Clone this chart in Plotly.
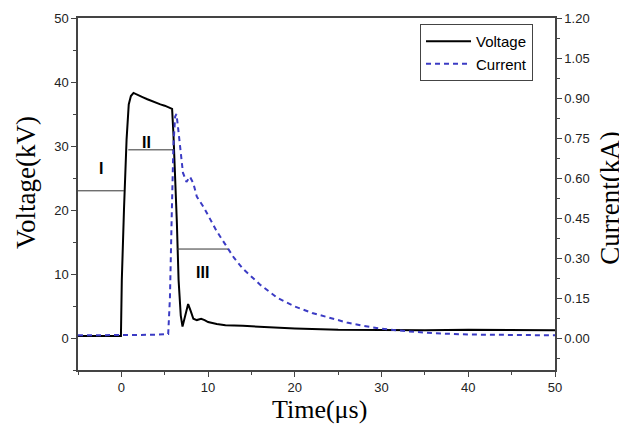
import plotly.graph_objects as go

# Voltage trace (kV) vs time (µs)
volt_t = [-5, -3, -1, -0.05, 0.0, 0.05, 0.3, 0.6, 0.85, 1.1, 1.4, 1.8, 2.5, 3.0, 3.5, 4.0, 4.5, 5.0, 5.5, 5.85,
          6.0, 6.2, 6.4, 6.6, 6.85, 7.05, 7.3, 7.7, 8.0, 8.3, 8.7, 9.2, 9.6, 10.0, 11.0, 12.0, 14.0, 17.0,
          20.0, 25.0, 30.0, 35.0, 40.0, 45.0, 50.0]
volt_v = [0.3, 0.35, 0.3, 0.3, 7.5, 9.0, 20.0, 31.0, 36.5, 37.8, 38.3, 38.0, 37.6, 37.3, 37.0, 36.8, 36.5, 36.3, 36.0, 35.8,
          32.0, 26.0, 18.0, 9.0, 3.5, 1.8, 3.0, 5.3, 4.2, 3.0, 2.8, 3.0, 2.8, 2.5, 2.2, 2.0, 1.9, 1.7,
          1.5, 1.3, 1.2, 1.2, 1.3, 1.3, 1.2]

# Current trace (kA) vs time (µs)
curr_t = [-5, -2, 0, 2, 4, 5.4, 5.6, 5.8, 6.0, 6.2, 6.35, 6.5, 6.8, 7.1, 7.5, 7.9, 8.3, 8.7, 9.5, 10.0,
          11.0, 12.0, 13.0, 14.0, 16.0, 18.0, 20.0, 22.0, 24.0, 26.0, 28.0, 30.0, 33.0, 36.0, 40.0, 45.0, 50.0]
curr_v = [0.01, 0.01, 0.01, 0.012, 0.012, 0.015, 0.15, 0.45, 0.72, 0.83, 0.84, 0.8, 0.7, 0.62, 0.585, 0.605, 0.58, 0.53, 0.49, 0.46,
          0.4, 0.35, 0.3, 0.26, 0.2, 0.15, 0.118, 0.094, 0.075, 0.058, 0.045, 0.035, 0.025, 0.018, 0.013, 0.011, 0.01]

# Phase markers: label, label position, horizontal guide line (x0, x1, y) in voltage units
phase_labels = ["I", "II", "III"]
phase_label_x = [-2.4, 2.9, 9.4]
phase_label_y = [26.5, 30.5, 10.2]
phase_line_x0 = [-5.0, 0.8, 6.4]
phase_line_x1 = [0.3, 6.0, 12.3]
phase_line_y = [23.0, 29.4, 13.9]

x_ticks = [0, 10, 20, 30, 40, 50]
v_ticks = [0, 10, 20, 30, 40, 50]
c_ticks = [0.0, 0.15, 0.30, 0.45, 0.60, 0.75, 0.90, 1.05, 1.20]

fig = go.Figure()
fig.add_trace(go.Scatter(x=volt_t, y=volt_v, name="Voltage", mode="lines",
                         line=dict(color="black", width=2)))
fig.add_trace(go.Scatter(x=curr_t, y=curr_v, name="Current", mode="lines", yaxis="y2",
                         line=dict(color="#3b3bc4", width=2, dash="5px,4px")))

for x0, x1, y in zip(phase_line_x0, phase_line_x1, phase_line_y):
    fig.add_shape(type="line", x0=x0, x1=x1, y0=y, y1=y, xref="x", yref="y",
                  line=dict(color="#333333", width=1))
for lab, x, y in zip(phase_labels, phase_label_x, phase_label_y):
    fig.add_annotation(x=x, y=y, text="<b>" + lab + "</b>", showarrow=False, xref="x", yref="y",
                       font=dict(family="Liberation Sans, Arial", size=16, color="black"))

tickfont = dict(family="Liberation Sans, Arial", size=13, color="#222")
titlefont_v = dict(family="Liberation Serif, Times New Roman", size=27, color="black")
titlefont_h = dict(family="Liberation Serif, Times New Roman", size=26, color="black")

# axis titles as paper-positioned text
fig.add_annotation(text="Voltage(kV)", xref="paper", yref="paper", x=-0.109, y=0.531,
                   xanchor="center", yanchor="middle",
                   textangle=-90, showarrow=False, font=titlefont_v)
fig.add_annotation(text="Current(kA)", xref="paper", yref="paper", x=1.115, y=0.489,
                   xanchor="center", yanchor="middle",
                   textangle=-90, showarrow=False, font=titlefont_v)
fig.add_annotation(text="Time(μs)", xref="paper", yref="paper", x=0.507, y=-0.1136,
                   xanchor="center", yanchor="middle",
                   showarrow=False, font=titlefont_h)

# page body has an 8px default margin, so the figure is sized to fit the window
fig.update_layout(
    width=619, height=420,
    margin=dict(l=70, r=72, t=10, b=58, autoexpand=False),
    paper_bgcolor="white", plot_bgcolor="white",
    showlegend=True,
    legend=dict(x=0.717, y=0.983, xanchor="left", yanchor="top",
                bordercolor="#444", borderwidth=1, bgcolor="white",
                font=dict(family="Liberation Sans, Arial", size=15, color="black"),
                tracegroupgap=0, itemwidth=45),
    xaxis=dict(range=[-5, 50], tickvals=x_ticks, showgrid=False, zeroline=False,
               showline=True, linecolor="#444", linewidth=1.5, mirror=True,
               ticks="outside", ticklen=5, tickcolor="#444", automargin=False,
               minor=dict(ticks="outside", dtick=5, ticklen=3, tickcolor="#444"),
               tickfont=tickfont),
    yaxis=dict(range=[-5, 50], tickvals=v_ticks, showgrid=False, zeroline=False,
               showline=True, linecolor="#444", linewidth=1.5, automargin=False,
               ticks="outside", ticklen=5, tickcolor="#444",
               minor=dict(ticks="outside", dtick=5, ticklen=3, tickcolor="#444"),
               tickfont=tickfont),
    yaxis2=dict(range=[-0.12, 1.2], tickvals=c_ticks, tickformat=".2f", overlaying="y", side="right",
                showgrid=False, zeroline=False, showline=True, linecolor="#444", linewidth=1.5,
                ticks="outside", ticklen=5, tickcolor="#444", automargin=False,
                minor=dict(ticks="outside", dtick=0.075, tick0=0, ticklen=3, tickcolor="#444"),
                tickfont=tickfont),
)

fig.write_html("out.html")
